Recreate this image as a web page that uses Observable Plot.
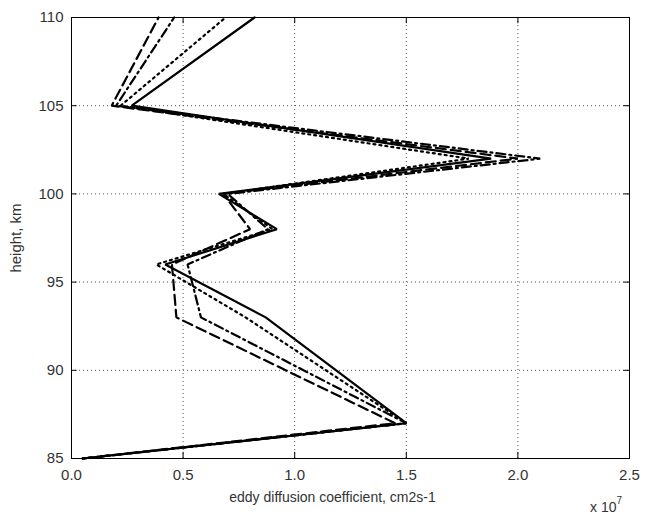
<!DOCTYPE html>
<html>
<head>
<meta charset="utf-8">
<script src="https://cdn.jsdelivr.net/npm/d3@7"></script>
<script src="https://cdn.jsdelivr.net/npm/@observablehq/plot@0.6"></script>
<style>
  html, body { margin: 0; padding: 0; background: #fff; }
  #chart { position: relative; width: 651px; height: 514px; }
</style>
</head>
<body>
<div id="chart"></div>
<script>
// heights (km)
const heights = [85, 87, 93, 96, 98, 100, 102, 105, 110];
// eddy diffusion coefficient (x 1e7 cm2 s-1)
const solid   = [0.05, 1.50, 0.87, 0.42, 0.92, 0.66, 1.88, 0.27, 0.82];
const dotted  = [0.05, 1.50, 0.78, 0.38, 0.90, 0.68, 1.78, 0.22, 0.69];
const dashdot = [0.05, 1.50, 0.58, 0.52, 0.88, 0.70, 2.10, 0.20, 0.46];
const dashed  = [0.05, 1.45, 0.47, 0.45, 0.80, 0.68, 2.00, 0.18, 0.39];
const xTicks = [0, 0.5, 1, 1.5, 2, 2.5];
const yTicks = [85, 90, 95, 100, 105, 110];
const xLabel = "eddy diffusion coefficient, cm2s-1";
const yLabel = "height, km";

const series = [
  {name: "solid", values: solid, dash: null},
  {name: "dotted", values: dotted, dash: "2,4"},
  {name: "dashdot", values: dashdot, dash: "9,4,2,4"},
  {name: "dashed", values: dashed, dash: "10,5"}
];
const toRows = s => heights.map((h, i) => ({h, x: s.values[i]}));

const font = "Liberation Sans, Arial, sans-serif";
const marks = [
  Plot.ruleX(xTicks.slice(1, -1), {stroke: "#555", strokeDasharray: "1,3", strokeWidth: 1}),
  Plot.ruleY(yTicks.slice(1, -1), {stroke: "#555", strokeDasharray: "1,3", strokeWidth: 1}),
  Plot.ruleX(xTicks, {y1: 85, y2: 85.35, stroke: "#000"}),
  Plot.ruleX(xTicks, {y1: 110, y2: 109.65, stroke: "#000"}),
  Plot.ruleY(yTicks, {x1: 0, x2: 0.025, stroke: "#000"}),
  Plot.ruleY(yTicks, {x1: 2.5, x2: 2.475, stroke: "#000"}),
  ...series.map(s => Plot.line(toRows(s), {
    x: "x", y: "h", stroke: "#000", strokeWidth: 2.2,
    strokeDasharray: s.dash, strokeLinejoin: "miter", curve: "linear"
  })),
  Plot.frame({stroke: "#000", strokeWidth: 1}),
  Plot.axisX(xTicks, {tickSize: 0, tickPadding: 11, fontSize: 15, fill: "#333", label: null}),
  Plot.text([xLabel], {text: d => d, frameAnchor: "bottom", dx: -18, dy: 43,
    fontSize: 14, fill: "#333"}),
  Plot.axisY(yTicks, {tickSize: 0, tickPadding: 8, fontSize: 15, fill: "#333",
    label: yLabel, labelAnchor: "center", labelArrow: "none", labelOffset: 61})
];

const plot = Plot.plot({
  width: 651, height: 514,
  marginLeft: 71, marginRight: 22, marginTop: 17, marginBottom: 56,
  x: {domain: [0, 2.5]},
  y: {domain: [85, 110]},
  style: {fontFamily: font, fontSize: "14px", color: "#333", background: "#fff", overflow: "visible"},
  marks
});
document.getElementById("chart").appendChild(plot);

const exp = document.createElement("div");
exp.style.cssText = `position:absolute; left:590px; top:497px; font: 14px ${font}; color:#333;`;
exp.innerHTML = "x 10<sup style='font-size:10px; position:relative; top:-2px'>7</sup>";
document.getElementById("chart").appendChild(exp);
</script>
</body>
</html>
